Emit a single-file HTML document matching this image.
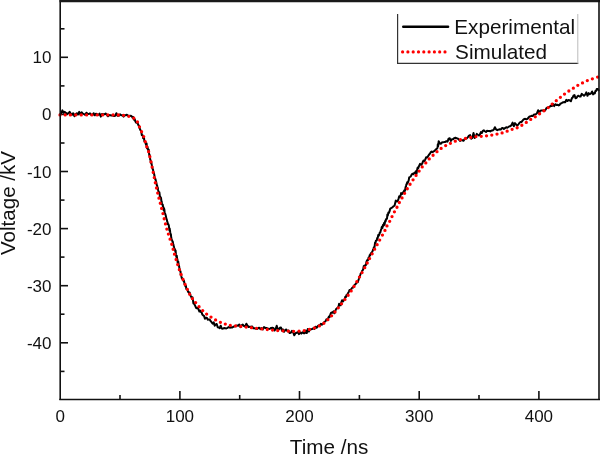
<!DOCTYPE html>
<html><head><meta charset="utf-8"><style>
html,body{margin:0;padding:0;background:#fff;}
svg{display:block;will-change:transform;}
text{font-family:"Liberation Sans",sans-serif;fill:#111;}
</style></head><body>
<svg width="600" height="455" viewBox="0 0 600 455">
<rect width="600" height="455" fill="#fff"/>
<g stroke="#111" stroke-width="1.6" fill="none">
<line x1="60" y1="371.4" x2="64.5" y2="371.4"/><line x1="60" y1="342.8" x2="68.0" y2="342.8"/><line x1="60" y1="314.2" x2="64.5" y2="314.2"/><line x1="60" y1="285.7" x2="68.0" y2="285.7"/><line x1="60" y1="257.1" x2="64.5" y2="257.1"/><line x1="60" y1="228.6" x2="68.0" y2="228.6"/><line x1="60" y1="200.1" x2="64.5" y2="200.1"/><line x1="60" y1="171.5" x2="68.0" y2="171.5"/><line x1="60" y1="143.0" x2="64.5" y2="143.0"/><line x1="60" y1="114.4" x2="68.0" y2="114.4"/><line x1="60" y1="85.9" x2="64.5" y2="85.9"/><line x1="60" y1="57.3" x2="68.0" y2="57.3"/><line x1="60" y1="28.8" x2="64.5" y2="28.8"/><line x1="120.0" y1="399" x2="120.0" y2="395.0"/><line x1="179.9" y1="399" x2="179.9" y2="391.0"/><line x1="239.7" y1="399" x2="239.7" y2="395.0"/><line x1="299.5" y1="399" x2="299.5" y2="391.0"/><line x1="359.4" y1="399" x2="359.4" y2="395.0"/><line x1="419.2" y1="399" x2="419.2" y2="391.0"/><line x1="479.0" y1="399" x2="479.0" y2="395.0"/><line x1="538.9" y1="399" x2="538.9" y2="391.0"/>
</g>
<path d="M60.0,114.5 L61.2,113.4 L62.4,110.4 L63.6,112.8 L64.8,111.9 L66.0,113.0 L67.2,113.4 L68.4,113.5 L69.6,111.8 L70.8,113.8 L72.0,114.8 L73.2,113.2 L74.4,116.2 L75.6,114.1 L76.8,113.3 L78.0,114.6 L79.2,111.9 L80.4,114.5 L81.6,112.3 L82.8,113.6 L84.0,114.1 L85.2,114.8 L86.4,112.7 L87.6,113.8 L88.8,114.0 L90.0,113.3 L91.2,114.8 L92.4,115.1 L93.6,113.2 L94.8,115.3 L96.0,113.7 L97.2,114.3 L98.4,115.0 L99.6,113.5 L100.8,116.6 L102.0,114.0 L103.2,114.2 L104.4,114.3 L105.6,113.5 L106.8,114.9 L108.0,116.3 L109.2,115.1 L110.4,115.2 L111.6,115.5 L112.8,115.6 L114.0,116.0 L115.2,115.7 L116.4,113.2 L117.6,115.8 L118.8,115.7 L120.0,114.4 L121.2,115.3 L122.4,115.2 L123.6,116.6 L124.7,115.2 L125.8,115.2 L126.9,114.8 L127.9,115.7 L128.8,115.7 L129.8,116.0 L130.9,115.7 L131.9,116.5 L132.6,117.7 L133.3,117.0 L134.0,119.8 L134.7,119.1 L135.3,121.3 L136.0,122.5 L136.7,122.5 L137.4,123.2 L137.9,123.9 L138.5,125.5 L139.0,125.5 L139.5,128.0 L140.0,129.2 L140.4,130.2 L140.9,130.5 L141.3,131.8 L141.8,135.0 L142.2,135.0 L142.7,135.3 L143.1,138.1 L143.5,138.3 L144.0,137.6 L144.4,141.5 L144.8,141.5 L145.3,142.0 L145.7,143.7 L146.1,144.8 L146.6,143.5 L147.0,148.3 L147.5,146.9 L147.9,148.9 L148.4,150.8 L148.7,149.7 L149.0,152.8 L149.3,155.3 L149.5,154.6 L149.8,155.6 L150.1,158.6 L150.3,159.7 L150.6,160.4 L150.9,163.0 L151.1,161.6 L151.4,163.0 L151.7,164.6 L151.9,165.6 L152.2,167.2 L152.5,168.9 L152.8,169.0 L153.1,169.8 L153.4,173.1 L153.7,172.3 L154.1,174.0 L154.4,175.3 L154.7,178.5 L155.0,178.0 L155.3,179.0 L155.6,179.7 L155.9,180.9 L156.2,182.1 L156.5,183.4 L156.8,185.2 L157.1,185.5 L157.5,187.5 L157.8,187.8 L158.1,189.9 L158.4,191.4 L158.8,192.6 L159.1,192.8 L159.4,192.3 L159.7,194.8 L160.0,197.6 L160.4,196.8 L160.7,198.1 L161.0,197.9 L161.4,201.2 L161.7,201.5 L162.0,204.5 L162.4,204.6 L162.7,204.5 L163.0,206.5 L163.4,207.2 L163.7,210.3 L164.0,208.2 L164.4,209.8 L164.7,213.4 L165.0,213.3 L165.3,214.1 L165.6,215.0 L165.9,216.2 L166.3,218.4 L166.6,218.9 L166.9,220.0 L167.2,221.6 L167.5,222.0 L167.8,224.1 L168.1,224.0 L168.4,224.3 L168.8,225.4 L169.1,227.9 L169.4,230.4 L169.7,228.5 L170.0,231.0 L170.3,232.7 L170.6,233.9 L170.9,234.3 L171.2,237.5 L171.6,239.4 L171.9,239.9 L172.2,240.4 L172.5,241.7 L172.8,241.7 L173.1,244.0 L173.4,244.4 L173.7,246.2 L174.0,246.9 L174.3,249.5 L174.7,248.8 L175.0,249.7 L175.3,251.4 L175.6,250.5 L175.9,254.4 L176.2,256.1 L176.5,257.1 L176.8,255.8 L177.1,258.5 L177.4,259.4 L177.7,262.8 L178.0,262.6 L178.3,261.8 L178.5,264.0 L178.8,265.8 L179.1,265.9 L179.4,268.5 L179.7,269.9 L180.0,269.8 L180.2,271.1 L180.5,271.3 L180.8,275.3 L181.1,274.1 L181.4,276.4 L181.8,278.4 L182.2,278.1 L182.7,279.4 L183.1,279.7 L183.6,281.1 L184.0,280.7 L184.5,284.2 L185.0,284.2 L185.4,286.4 L185.9,285.8 L186.3,289.0 L186.9,288.8 L187.5,289.5 L188.0,291.9 L188.6,291.8 L189.2,293.5 L189.7,292.7 L190.3,294.9 L190.8,296.2 L191.4,297.2 L191.9,298.5 L192.4,297.2 L192.9,299.9 L193.4,303.3 L193.9,302.4 L194.4,304.5 L194.9,305.2 L195.4,306.3 L196.2,308.0 L197.0,308.3 L197.8,307.9 L198.6,309.6 L199.4,311.5 L200.1,310.6 L200.9,312.0 L201.6,312.3 L202.3,314.5 L203.1,315.3 L204.0,315.8 L204.9,318.7 L205.9,317.8 L206.8,317.7 L207.7,319.7 L208.7,319.6 L209.7,319.6 L210.7,321.2 L211.7,322.3 L212.7,323.7 L213.7,322.4 L214.7,325.7 L215.7,324.4 L216.7,324.0 L217.7,327.3 L218.7,327.5 L219.7,328.2 L220.7,325.7 L221.7,328.5 L222.9,328.7 L224.0,328.1 L225.2,328.3 L226.3,328.5 L227.5,327.8 L228.7,327.0 L229.9,327.7 L231.1,327.3 L232.3,327.5 L233.5,326.7 L234.7,326.3 L235.9,326.3 L237.1,325.4 L238.2,325.8 L239.3,324.5 L240.5,327.1 L241.6,325.4 L242.8,324.6 L244.0,326.1 L245.2,326.5 L246.4,323.7 L247.5,325.7 L248.7,327.0 L249.9,326.8 L251.0,326.7 L252.2,326.4 L253.3,328.3 L254.4,328.2 L255.6,328.6 L256.8,329.0 L258.0,328.4 L259.2,327.7 L260.4,329.1 L261.6,328.1 L262.8,329.4 L264.0,327.1 L265.2,327.9 L266.4,328.0 L267.6,328.4 L268.8,328.9 L270.0,328.7 L271.1,327.9 L272.3,327.8 L273.4,327.9 L274.6,330.5 L275.7,328.9 L276.7,325.8 L277.8,329.4 L278.8,329.4 L279.9,327.7 L280.9,327.4 L282.0,330.6 L283.0,329.4 L284.1,331.8 L285.2,330.1 L286.3,329.5 L287.4,331.2 L288.5,330.6 L289.6,333.0 L290.8,332.7 L292.0,330.8 L293.2,332.3 L294.3,335.3 L295.5,333.2 L296.6,332.8 L297.8,332.0 L298.9,334.1 L300.1,332.4 L301.3,333.6 L302.5,332.2 L303.7,333.2 L304.8,333.2 L305.8,330.6 L306.8,333.0 L307.8,329.0 L308.9,331.5 L310.0,329.1 L311.0,329.4 L312.1,329.0 L313.2,328.4 L314.3,328.9 L315.5,326.7 L316.6,327.8 L317.8,326.1 L318.8,325.4 L319.9,325.6 L320.9,323.8 L321.9,324.6 L323.0,323.8 L323.8,323.0 L324.7,321.6 L325.5,321.4 L326.4,319.4 L327.2,320.1 L328.1,318.5 L328.9,316.6 L329.6,317.2 L330.3,314.7 L331.0,312.9 L331.9,312.4 L332.7,312.7 L333.6,311.3 L334.4,313.3 L335.3,311.0 L336.1,309.0 L336.9,308.4 L337.6,307.8 L338.4,307.1 L339.1,303.8 L339.8,305.0 L340.6,305.3 L341.3,302.4 L342.1,300.2 L343.0,301.4 L343.8,300.4 L344.7,299.5 L345.3,296.7 L345.9,297.2 L346.5,294.9 L347.1,294.9 L347.7,293.8 L348.3,292.9 L348.9,291.6 L349.5,290.0 L350.1,290.1 L350.8,290.0 L351.6,288.5 L352.4,287.5 L353.2,287.5 L354.0,285.8 L354.7,284.7 L355.5,284.3 L356.3,283.1 L357.1,282.3 L357.8,282.2 L358.4,280.3 L358.9,278.8 L359.3,277.0 L359.8,276.3 L360.3,274.8 L360.7,273.5 L361.2,273.3 L361.7,272.8 L362.1,270.9 L362.7,270.3 L363.2,269.2 L363.7,266.3 L364.3,265.7 L364.8,265.5 L365.3,265.7 L365.9,265.1 L366.4,261.8 L366.9,260.7 L367.5,259.9 L368.0,260.1 L368.6,257.4 L369.1,257.9 L369.7,255.1 L370.2,255.2 L370.8,253.4 L371.4,253.6 L371.9,252.4 L372.5,251.2 L373.0,250.0 L373.5,248.6 L373.9,247.2 L374.3,248.5 L374.7,245.6 L375.1,242.5 L375.5,243.2 L375.9,240.7 L376.3,240.6 L376.8,240.4 L377.2,237.9 L377.7,238.2 L378.2,235.1 L378.7,235.7 L379.3,234.6 L379.8,232.5 L380.3,232.6 L380.8,230.4 L381.3,229.1 L381.8,227.1 L382.4,228.0 L382.9,224.9 L383.5,225.7 L384.0,223.1 L384.6,224.7 L385.1,221.1 L385.6,221.3 L385.9,219.3 L386.3,219.4 L386.7,218.7 L387.0,218.7 L387.4,214.4 L387.8,215.6 L388.4,212.4 L389.0,212.7 L389.6,211.2 L390.2,208.6 L391.0,208.3 L391.8,207.7 L392.5,207.3 L393.3,206.4 L393.9,206.1 L394.6,205.4 L395.2,203.0 L395.8,200.6 L396.5,201.2 L397.2,201.5 L397.9,200.5 L398.5,198.8 L399.2,196.3 L399.8,197.2 L400.4,196.4 L401.1,193.1 L401.8,194.0 L402.5,193.8 L403.2,192.1 L403.8,191.5 L404.4,190.3 L405.0,190.9 L405.6,186.8 L406.0,186.6 L406.4,184.2 L406.8,184.3 L407.2,182.3 L407.6,183.2 L408.1,181.8 L408.7,180.3 L409.2,177.4 L409.9,177.0 L410.8,176.4 L411.6,174.7 L412.5,173.7 L413.3,174.2 L414.1,172.9 L414.9,173.2 L415.7,171.3 L416.5,173.9 L417.2,169.3 L417.7,167.4 L418.2,168.3 L418.7,167.0 L419.2,165.6 L420.1,163.8 L421.1,164.9 L422.2,163.6 L422.9,161.7 L423.4,160.7 L424.0,160.4 L424.5,161.0 L425.2,159.6 L426.1,157.3 L427.0,157.6 L427.9,156.5 L428.8,155.0 L429.7,153.9 L430.6,152.4 L431.6,151.6 L432.5,152.1 L433.6,151.4 L434.6,150.8 L435.6,149.6 L436.4,149.1 L437.3,148.2 L437.6,147.3 L437.8,144.3 L438.1,146.3 L438.4,144.1 L438.7,141.2 L439.7,143.3 L440.8,143.8 L441.9,142.5 L443.0,142.2 L444.1,142.1 L445.3,141.9 L446.4,141.2 L447.5,141.7 L448.6,138.6 L449.7,138.2 L450.8,141.0 L451.9,139.2 L453.1,139.2 L454.3,138.1 L455.4,137.7 L456.6,138.2 L457.7,138.5 L458.8,139.4 L460.0,140.9 L461.1,140.1 L462.3,140.2 L463.4,140.8 L464.6,139.1 L465.7,138.6 L466.8,138.2 L467.9,137.1 L469.0,135.6 L470.1,135.1 L471.2,138.8 L472.3,138.0 L473.5,133.0 L474.7,138.1 L475.7,136.4 L476.8,133.9 L477.9,134.8 L478.9,135.5 L479.9,134.4 L480.9,132.1 L481.8,133.0 L482.8,130.8 L483.8,130.3 L484.9,131.2 L486.0,132.0 L487.1,130.8 L488.2,131.1 L489.3,131.0 L490.4,131.4 L491.6,130.5 L492.7,130.5 L493.8,129.6 L494.9,127.2 L496.1,129.4 L497.3,130.2 L498.4,129.6 L499.6,129.3 L500.7,129.6 L501.7,128.3 L502.8,127.9 L503.9,128.9 L505.0,128.1 L506.2,127.3 L507.3,127.7 L508.4,127.0 L509.4,126.3 L510.5,126.2 L511.5,125.0 L512.6,122.6 L513.8,126.3 L515.0,123.1 L516.1,124.6 L517.3,125.6 L518.4,124.3 L519.5,122.9 L520.5,121.9 L521.4,122.1 L522.3,121.0 L523.2,119.8 L524.1,119.1 L525.2,118.8 L526.4,119.3 L527.5,118.8 L528.6,117.5 L529.6,116.4 L530.7,116.2 L531.9,115.7 L533.0,116.0 L534.0,114.5 L535.0,114.4 L536.0,114.2 L537.0,113.1 L538.1,110.3 L539.2,113.2 L540.2,110.9 L541.3,110.4 L542.4,110.6 L543.5,110.5 L544.6,110.7 L545.7,109.6 L546.7,107.8 L547.7,108.0 L548.7,107.0 L549.7,106.7 L550.7,105.8 L551.9,105.9 L553.0,103.9 L554.2,106.1 L555.3,104.2 L556.5,105.0 L557.6,104.8 L558.7,105.4 L559.7,104.8 L560.6,103.4 L561.6,103.2 L562.5,102.5 L563.5,102.2 L564.4,102.0 L565.3,102.2 L566.3,99.8 L567.5,100.9 L568.6,99.9 L569.8,100.4 L570.9,101.3 L571.9,98.1 L572.7,97.5 L573.6,95.4 L574.5,95.1 L575.5,98.3 L576.4,98.1 L577.4,96.4 L578.5,95.7 L579.6,96.5 L580.6,96.5 L581.7,93.9 L582.8,94.7 L584.0,95.8 L585.2,94.6 L586.3,92.4 L587.5,95.8 L588.7,93.1 L589.8,94.2 L591.0,93.5 L592.1,91.5 L593.1,94.4 L594.1,93.0 L594.8,93.5 L595.4,90.9 L596.1,91.0 L596.7,89.1 L597.9,89.1 L599.0,91.0" fill="none" stroke="#000" stroke-width="2" stroke-linejoin="round"/>
<path d="M60.0,114.9 C66.7,114.9 90.3,114.9 100.0,114.9 C109.7,114.9 114.4,114.9 118.3,115.0 C122.2,115.1 121.7,115.1 123.4,115.3 C125.1,115.5 127.0,115.8 128.7,116.3 C130.4,116.8 132.2,117.1 133.7,118.1 C135.2,119.0 136.5,120.5 137.5,122.0 C138.5,123.5 138.9,125.5 139.6,127.2 C140.3,128.9 141.0,130.4 141.7,132.0 C142.4,133.6 143.2,135.2 143.8,136.8 C144.4,138.4 144.8,140.1 145.3,141.8 C145.8,143.5 146.2,145.3 146.8,146.9 C147.4,148.5 147.8,148.4 148.6,151.6 C149.4,154.8 150.8,160.8 151.9,166.0 C153.0,171.2 154.2,177.3 155.3,182.6 C156.5,187.9 157.5,192.5 158.8,197.6 C160.1,202.7 161.6,208.1 162.9,213.4 C164.2,218.7 165.4,223.9 166.9,229.2 C168.4,234.5 170.8,241.1 172.0,245.0 C173.2,248.9 173.0,249.1 174.0,252.5 C175.0,255.9 176.7,261.4 177.9,265.3 C179.2,269.2 180.1,272.0 181.5,275.6 C182.9,279.2 184.6,283.5 186.2,286.9 C187.8,290.3 189.3,293.6 190.8,296.2 C192.3,298.8 193.9,300.4 195.4,302.3 C196.9,304.2 198.3,305.9 200.0,307.7 C201.7,309.5 203.6,311.6 205.4,313.1 C207.2,314.6 208.6,315.5 210.8,316.9 C213.0,318.3 216.2,320.4 218.5,321.5 C220.8,322.6 222.7,323.2 224.6,323.8 C226.5,324.4 227.6,325.0 230.0,325.4 C232.4,325.8 236.0,325.8 239.3,326.2 C242.6,326.6 246.6,327.1 250.0,327.5 C253.4,327.9 256.4,328.3 260.0,328.7 C263.6,329.1 268.1,329.6 271.7,330.0 C275.3,330.4 278.1,330.6 281.7,330.8 C285.3,331.0 289.7,331.3 293.3,331.3 C296.9,331.3 300.0,331.3 303.3,330.8 C306.6,330.3 310.1,329.4 313.3,328.3 C316.5,327.2 319.6,326.1 322.5,324.2 C325.4,322.3 328.1,319.5 330.8,316.7 C333.5,313.9 335.5,311.3 338.8,307.2 C342.1,303.1 346.7,297.5 350.5,291.9 C354.3,286.3 358.2,279.3 361.4,273.7 C364.6,268.1 367.3,262.8 369.9,258.0 C372.5,253.2 374.7,249.0 377.1,244.7 C379.5,240.3 382.6,234.9 384.2,231.9 C385.8,228.9 385.6,228.5 386.4,226.9 C387.2,225.3 388.2,224.1 389.1,222.5 C390.0,220.9 390.7,219.2 391.5,217.6 C392.3,216.0 393.0,214.5 393.8,213.0 C394.6,211.5 395.5,210.1 396.3,208.6 C397.1,207.1 397.8,205.5 398.6,203.9 C399.4,202.3 400.4,200.8 401.3,199.2 C402.2,197.6 403.0,196.0 403.9,194.5 C404.8,193.0 405.6,191.6 406.5,190.1 C407.4,188.6 408.2,187.1 409.2,185.6 C410.1,184.1 411.2,182.6 412.2,181.1 C413.2,179.6 414.2,178.0 415.2,176.6 C416.2,175.2 417.2,173.9 418.2,172.5 C419.2,171.1 420.0,169.6 421.0,168.3 C422.0,167.0 423.2,165.9 424.4,164.6 C425.5,163.3 426.8,161.8 427.9,160.5 C429.0,159.2 430.0,158.0 431.3,156.8 C432.6,155.6 434.2,154.3 435.5,153.1 C436.8,151.9 437.7,150.9 439.2,149.8 C440.7,148.7 442.7,147.3 444.3,146.3 C445.9,145.3 447.4,144.8 449.0,144.0 C450.6,143.2 452.3,142.4 454.0,141.7 C455.7,141.0 457.6,140.5 459.3,140.0 C461.0,139.5 462.3,139.1 464.0,138.7 C465.7,138.3 467.5,138.0 469.3,137.7 C471.1,137.4 472.9,136.9 474.7,136.7 C476.5,136.5 478.2,136.5 480.0,136.4 C481.8,136.3 483.5,136.2 485.3,136.0 C487.1,135.8 488.9,135.6 490.7,135.3 C492.5,135.0 494.3,134.6 496.0,134.3 C497.7,134.0 499.2,133.7 500.8,133.3 C502.4,132.9 504.1,132.3 505.8,131.7 C507.5,131.1 509.1,130.3 510.8,129.7 C512.5,129.1 514.1,129.0 515.8,128.3 C517.5,127.7 519.3,126.6 520.8,125.8 C522.3,125.0 523.5,124.3 525.0,123.3 C526.5,122.3 528.2,121.0 529.7,120.0 C531.2,119.0 532.8,118.4 534.2,117.5 C535.6,116.6 536.9,115.7 538.3,114.7 C539.7,113.7 541.0,112.7 542.5,111.7 C544.0,110.7 545.6,109.8 547.0,108.7 C548.4,107.6 549.5,106.5 550.8,105.3 C552.1,104.1 553.6,102.9 555.0,101.7 C556.4,100.5 557.8,99.4 559.2,98.3 C560.6,97.2 561.9,96.1 563.3,95.0 C564.7,93.9 566.3,92.8 567.8,91.7 C569.3,90.7 571.0,89.7 572.5,88.7 C574.0,87.7 575.5,86.7 577.0,85.8 C578.5,84.9 580.1,84.1 581.7,83.3 C583.3,82.5 585.0,81.5 586.7,80.8 C588.4,80.1 590.1,79.6 591.7,79.1 C593.3,78.5 595.1,77.9 596.3,77.5 C597.5,77.1 598.5,76.9 599.0,76.8" fill="none" stroke="#f00" stroke-width="3.3" stroke-linecap="round" stroke-dasharray="0 5.3"/>
<g stroke="#111" stroke-width="1.6" fill="none">
<line x1="60.2" y1="0" x2="60.2" y2="400"/>
<line x1="59.3" y1="399.5" x2="600" y2="399.5" stroke-width="1.7"/>
<line x1="59.5" y1="1.1" x2="600" y2="1.1" stroke-width="2.1" stroke="#1a1a1a"/>
<line x1="599" y1="0" x2="599" y2="400"/>
</g>
<g font-size="17">
<text x="51.5" y="63.3" text-anchor="end">10</text><text x="51.5" y="120.4" text-anchor="end">0</text><text x="51.5" y="177.5" text-anchor="end">-10</text><text x="51.5" y="234.6" text-anchor="end">-20</text><text x="51.5" y="291.7" text-anchor="end">-30</text><text x="51.5" y="348.8" text-anchor="end">-40</text>
<text x="60.2" y="421.5" text-anchor="middle">0</text><text x="179.9" y="421.5" text-anchor="middle">100</text><text x="299.5" y="421.5" text-anchor="middle">200</text><text x="419.2" y="421.5" text-anchor="middle">300</text><text x="538.9" y="421.5" text-anchor="middle">400</text>
</g>
<text x="289.8" y="453.7" font-size="20.7">Time /ns</text>
<text transform="translate(15,203) rotate(-90)" font-size="20.6" text-anchor="middle">Voltage /kV</text>
<rect x="397" y="14" width="181" height="50" fill="#fff"/>
<line x1="397.6" y1="14" x2="397.6" y2="63.5" stroke="#333" stroke-width="1.2"/>
<line x1="397" y1="63.3" x2="578.3" y2="63.3" stroke="#333" stroke-width="1.2"/>
<line x1="577.8" y1="14" x2="577.8" y2="63.5" stroke="#bbb" stroke-width="1"/>
<line x1="403.2" y1="26.7" x2="448.1" y2="26.7" stroke="#000" stroke-width="2.4" stroke-linecap="round"/>
<line x1="402.6" y1="51.9" x2="446" y2="51.9" stroke="#f00" stroke-width="3.2" stroke-linecap="round" stroke-dasharray="0 5.3"/>
<text x="454.3" y="33.7" font-size="20.7">Experimental</text>
<text x="455.1" y="58.6" font-size="20.7">Simulated</text>
</svg>
</body></html>
